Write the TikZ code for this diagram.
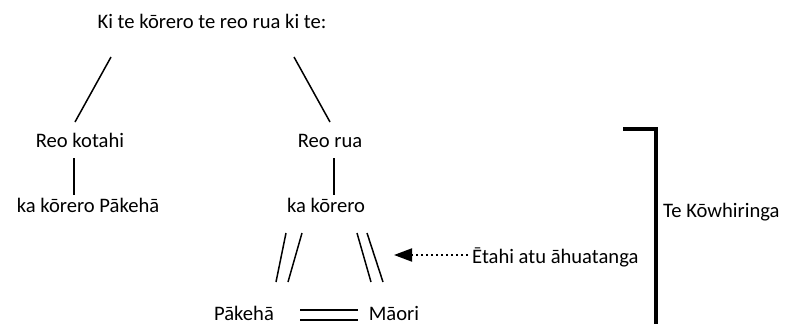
\documentclass[tikz,border=0pt]{standalone}
\usepackage{fontspec}
\setmainfont{Carlito}
\usetikzlibrary{arrows.meta}
\begin{document}
\begin{tikzpicture}[x=1pt,y=-1pt,
  lbl/.style={anchor=base,inner sep=0pt,font=\fontsize{20.6}{24}\selectfont},
  conn/.style={line width=1.5pt},
  thick bracket/.style={line width=3.6pt,line join=miter}]
\useasboundingbox (0,0) rectangle (788,324);
% texts
\node[lbl] (title) at (212,28) {Ki te kōrero te reo rua ki te:};
\node[lbl] (rk) at (80,147) {Reo kotahi};
\node[lbl] (rr) at (330,147) {Reo rua};
\node[lbl] (kp) at (88,212) {ka kōrero Pākehā};
\node[lbl] (kk) at (326,212) {ka kōrero};
\node[lbl] (pk) at (244,320) {Pākehā};
\node[lbl] (mo) at (394,320) {Māori};
\node[lbl,anchor=base west] (et) at (472,263) {Ētahi atu āhuatanga};
\node[lbl,anchor=base west] (kw) at (663,217) {Te Kōwhiringa};
% coordinates
\coordinate (l1) at (111,57); \coordinate (l2) at (75,122);
\coordinate (r1) at (294,57); \coordinate (r2) at (330,122);
\coordinate (v1) at (74,158); \coordinate (v2) at (74,195);
\coordinate (w1) at (334,158); \coordinate (w2) at (334,195);
\coordinate (a1) at (286,233); \coordinate (a2) at (276,282);
\coordinate (b1) at (302,233); \coordinate (b2) at (288,282);
\coordinate (c1) at (357,233); \coordinate (c2) at (371,282);
\coordinate (d1) at (367,233); \coordinate (d2) at (383,282);
\coordinate (e1) at (300,310); \coordinate (e2) at (358,310);
\coordinate (f1) at (300,320); \coordinate (f2) at (358,320);
\coordinate (tail) at (468,255);
\coordinate (tip) at (394,255);
\coordinate (bk1) at (623,129); \coordinate (bk2) at (656,324);
% connectors
\draw[conn] (l1) -- (l2);
\draw[conn] (r1) -- (r2);
\draw[conn] (v1) -- (v2);
\draw[conn] (w1) -- (w2);
\draw[conn] (a1) -- (a2);
\draw[conn] (b1) -- (b2);
\draw[conn] (c1) -- (c2);
\draw[conn] (d1) -- (d2);
\draw[conn] (e1) -- (e2);
\draw[conn] (f1) -- (f2);
\draw[line width=2pt,dash pattern=on 2pt off 3pt,-{Triangle[length=18pt,width=13pt]}]
  (tail) -- (tip);
\draw[thick bracket] (bk1) -| (bk2);
\end{tikzpicture}
\end{document}
